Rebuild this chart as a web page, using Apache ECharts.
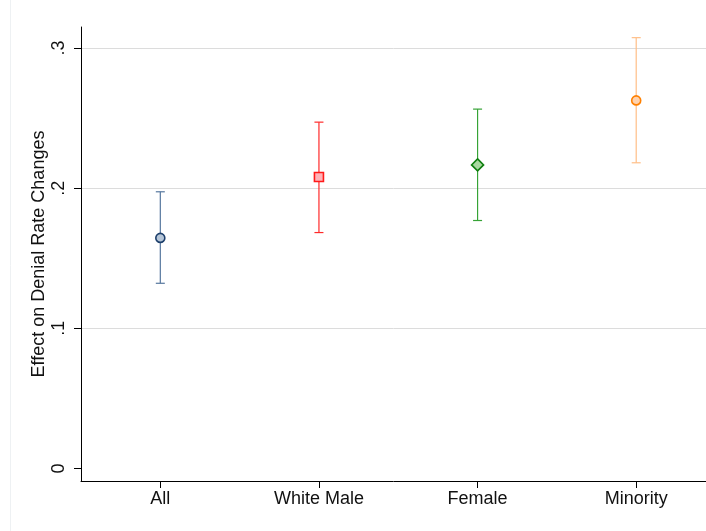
<!DOCTYPE html>
<html>
<head>
<meta charset="utf-8">
<script src="https://cdn.jsdelivr.net/npm/echarts@6/dist/echarts.min.js"></script>
<style>
html,body{margin:0;padding:0;background:#fff;}
#chart{width:706px;height:531px;}
</style>
</head>
<body>
<div id="chart"></div>
<script>
// ---- data ----
var categories = ['All', 'White Male', 'Female', 'Minority'];
var estimates  = [0.1645, 0.208, 0.2166, 0.2626];
var ciLow      = [0.1321, 0.1683, 0.1769, 0.2181];
var ciHigh     = [0.1974, 0.2471, 0.2564, 0.3074];
var yTicks     = [0, 0.1, 0.2, 0.3];
var yTickLabels = ['0', '.1', '.2', '.3'];
var xTicks     = [1, 2, 3, 4];

// ---- styles ----
var lineColors   = ['#56779e', '#ff2a2a', '#36a336', '#ffbf88'];
var markerFill   = ['#b6c6d8', '#ffb3b8', '#a8d8a0', '#ffd2ae'];
var markerBorder = ['#1d3f6b', '#ff1a1a', '#0e7e0e', '#ff8000'];
var markerSymbol = ['circle', 'rect', 'diamond', 'circle'];
var markerSize   = [[9, 9], [9, 9], [12, 12], [9, 9]];

var chart = echarts.init(document.getElementById('chart'), null, {renderer: 'canvas'});

var ciData = categories.map(function (c, i) { return [xTicks[i], ciLow[i], ciHigh[i], i]; });

var series = [{
  type: 'custom',
  name: 'CI',
  data: ciData,
  encode: {x: 0, y: [1, 2]},
  z: 2,
  renderItem: function (params, api) {
    var x = api.value(0), lo = api.value(1), hi = api.value(2), idx = api.value(3);
    var pLo = api.coord([x, lo]);
    var pHi = api.coord([x, hi]);
    var half = 4.5;
    var style = {stroke: lineColors[idx], lineWidth: 1.2, fill: null};
    return {
      type: 'group',
      children: [
        {type: 'line', shape: {x1: pLo[0], y1: pLo[1], x2: pHi[0], y2: pHi[1]}, style: style},
        {type: 'line', shape: {x1: pLo[0] - half, y1: pLo[1], x2: pLo[0] + half, y2: pLo[1]}, style: style},
        {type: 'line', shape: {x1: pHi[0] - half, y1: pHi[1], x2: pHi[0] + half, y2: pHi[1]}, style: style}
      ]
    };
  }
}];

categories.forEach(function (c, i) {
  series.push({
    type: 'scatter',
    name: c,
    z: 3,
    symbol: markerSymbol[i],
    symbolSize: markerSize[i],
    itemStyle: {color: markerFill[i], borderColor: markerBorder[i], borderWidth: 1.6, opacity: 1},
    emphasis: {disabled: true},
    data: [[xTicks[i], estimates[i]]]
  });
});

var option = {
  backgroundColor: '#ffffff',
  animation: false,
  textStyle: {fontFamily: 'Liberation Sans, Arial, sans-serif'},
  grid: {left: 81, right: 0, top: 27, bottom: 50, containLabel: false},
  xAxis: {
    type: 'value',
    min: 0.5,
    max: 4.44,
    axisLine: {show: true, onZero: false, lineStyle: {color: '#000', width: 1}},
    axisTick: {show: true, length: 7, lineStyle: {color: '#000'}, customValues: xTicks},
    axisLabel: {
      show: true, margin: 9, fontSize: 18, color: '#111',
      fontFamily: 'Liberation Sans, Arial, sans-serif',
      customValues: xTicks,
      formatter: function (v) { return categories[Math.round(v) - 1] || ''; }
    },
    splitLine: {show: false}
  },
  yAxis: {
    type: 'value',
    min: -0.009,
    max: 0.315,
    name: 'Effect on Denial Rate Changes',
    nameLocation: 'middle',
    nameGap: 33,
    nameMoveOverlap: false,
    nameRotate: 90,
    nameTextStyle: {fontSize: 18, color: '#111', fontFamily: 'Liberation Sans, Arial, sans-serif'},
    axisLine: {show: true, onZero: false, lineStyle: {color: '#000', width: 1}},
    axisTick: {show: true, length: 7, lineStyle: {color: '#000'}, customValues: yTicks},
    axisLabel: {
      show: true, rotate: 90, margin: 13, fontSize: 18, color: '#111',
      fontFamily: 'Liberation Sans, Arial, sans-serif',
      customValues: yTicks,
      formatter: function (v) {
        var k = yTicks.findIndex(function (t) { return Math.abs(t - v) < 1e-9; });
        return k >= 0 ? yTickLabels[k] : '';
      }
    },
    splitLine: {show: true, lineStyle: {color: ['rgba(0,0,0,0)', '#dcdcdc', '#dcdcdc', '#dcdcdc'], width: 1}}
  },
  graphic: [{
    type: 'line', silent: true,
    shape: {x1: 10.5, y1: 0, x2: 10.5, y2: 531},
    style: {stroke: '#eef1f3', lineWidth: 1}
  }],
  series: series
};

chart.setOption(option);
</script>
</body>
</html>
